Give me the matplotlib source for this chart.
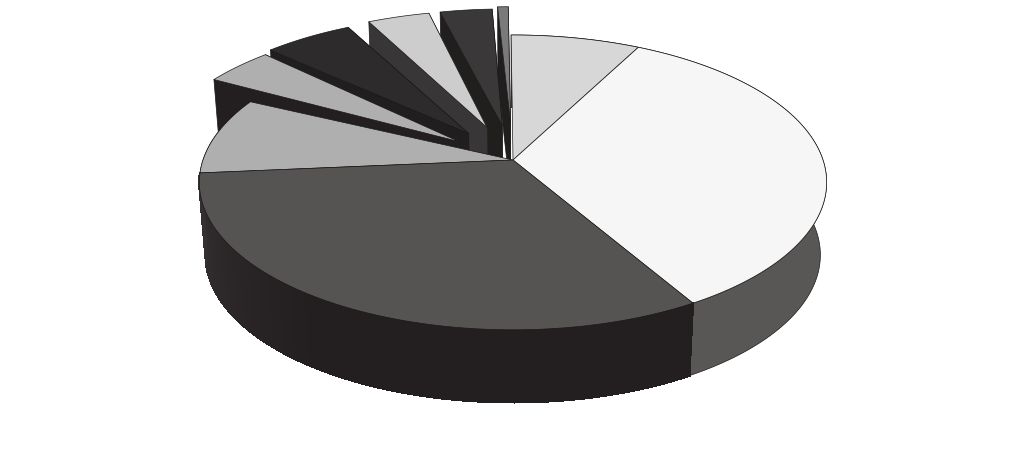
from __future__ import annotations

import matplotlib

matplotlib.use("Agg")

import matplotlib.pyplot as plt
import numpy as np
from matplotlib.colors import to_rgb

# shares in percent, clockwise from twelve o'clock; they stop just short of 100
shares = [7.7, 34.0, 32.0, 8.5, 4.2, 5.4, 3.8, 3.2, 0.65]
exploded = [0, 0, 0, 0, 0.22, 0.24, 0.25, 0.25, 0.27]
turn = [0, 0, 0, 0, 3.2, 1.8, 2.7, 2.2, 1.8]
top_colors = ["#d7d7d7", "#f6f6f6", "#555453", "#b0afaf", "#b0afaf", "#2d2b2b", "#cdcdcd", "#3a3838", "#7b7a7a"]
wall_colors = ["#3a3838", "#585755", "#231f20", "#231f20", "#231f20", "#201e1e", "#383636", "#211e1e", "#211e1e"]

WIDTH, HEIGHT = 1023, 473
CENTER_X, TOP_Y, BOTTOM_Y = 513.0, 160.0, 232.5
RADIUS, SQUASH, TILT = 310.0, 144.0, 0.152
BOTTOM_SCALE = 0.98
START_ANGLE = -0.4


def project(x, y, level: str = "top"):
    x = np.asarray(x, dtype=float)
    y = np.asarray(y, dtype=float)
    depth = 1.0 + TILT * y
    if level == "top":
        return CENTER_X + RADIUS * x / depth, TOP_Y - SQUASH * y / depth
    return CENTER_X + RADIUS * BOTTOM_SCALE * x / depth, BOTTOM_Y - SQUASH * y / depth


def polygon(ax, points, color, edge="#1a1818", zorder=1):
    xs, ys = zip(*points)
    ax.fill(xs, ys, facecolor=color, edgecolor=edge, linewidth=0.5, zorder=zorder, joinstyle="round")


def draw_slice(ax, start, stop, offset, top_color, wall_color, zorder, shade_left=False):
    mid = np.radians((start + stop) / 2.0)
    off_x, off_y = offset * np.sin(mid), offset * np.cos(mid)
    theta = np.radians(np.linspace(start, stop, 120))
    xs = off_x + np.sin(theta)
    ys = off_y + np.cos(theta)

    top_arc = list(zip(*project(xs, ys, "top")))
    low_arc = list(zip(*project(xs, ys, "bottom")))
    apex_top = tuple(project(off_x, off_y, "top"))
    apex_low = tuple(project(off_x, off_y, "bottom"))

    if offset > 0:
        # only the wall under the far edge of a pulled-out slice can be seen
        polygon(ax, [apex_top, top_arc[0], low_arc[0], apex_low], wall_color, zorder=zorder)
        polygon(ax, [apex_top, top_arc[-1], low_arc[-1], apex_low], wall_color, edge=wall_color, zorder=zorder)
    elif shade_left:
        # left part of the big slice wall turns slightly lighter
        base = np.array(to_rgb(wall_color))
        for i in range(len(top_arc) - 1):
            mix = np.clip((np.degrees(theta[i]) - 215.0) / 50.0, 0.0, 1.0)
            shade = base + mix * np.array([0.07, 0.07, 0.07])
            xs_s, ys_s = zip(*[top_arc[i], top_arc[i + 1], low_arc[i + 1], low_arc[i]])
            ax.fill(xs_s, ys_s, facecolor=shade, edgecolor=shade, linewidth=1.0, antialiased=False, zorder=zorder)
    else:
        polygon(ax, top_arc + low_arc[::-1], wall_color, zorder=zorder)
    polygon(ax, [apex_top] + top_arc, top_color, zorder=zorder)


fig = plt.figure(figsize=(WIDTH / 100, HEIGHT / 100), dpi=100)
ax = fig.add_axes([0, 0, 1, 1])
ax.set_xlim(0, WIDTH)
ax.set_ylim(HEIGHT, 0)
ax.axis("off")

edges = START_ANGLE + np.concatenate([[0.0], np.cumsum(shares)]) * 3.6

# pulled-out slices go back to front (last one first), then the body of the pie
for i in range(8, 3, -1):
    draw_slice(ax, edges[i] + turn[i], edges[i + 1] + turn[i], exploded[i], top_colors[i], wall_colors[i], zorder=9 - i)
for z, i in enumerate([0, 1, 3, 2]):
    draw_slice(ax, edges[i], edges[i + 1], exploded[i], top_colors[i], wall_colors[i], zorder=10 + z, shade_left=i == 2)

fig.savefig("out.png", dpi=100)
plt.close(fig)
